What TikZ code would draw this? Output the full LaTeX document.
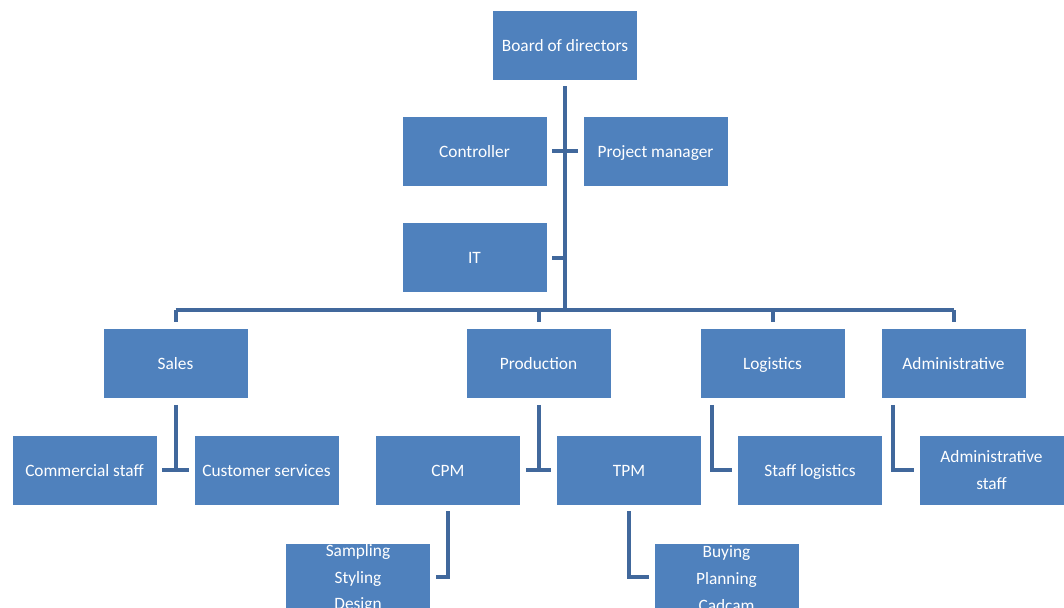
\documentclass[tikz,border=0pt]{standalone}
\usepackage{fontspec}
\setmainfont{Carlito}
\usetikzlibrary{calc}

\begin{document}
\begin{tikzpicture}[x=0.75pt, y=-0.75pt,
    box/.style={rectangle, draw=white, line width=0.4pt, fill={rgb,255:red,79;green,129;blue,189},
      text=white, minimum width=108.75pt, minimum height=52.5pt, inner sep=0pt,
      align=center, text height=10.5pt, text depth=1.5pt, font=\fontsize{13}{20}\selectfont},
    multi/.style={text height=, text depth=},
    conn/.style={draw={rgb,255:red,65;green,104;blue,156}, line width=3pt}]
  \clip (0,0) rectangle (1064,607);

  \node[box] (board) at (565, 45) {Board of directors};
  \node[box] (ctrl) at (474.5, 151) {Controller};
  \node[box] (pm) at (655.5, 151) {Project manager};
  \node[box] (it) at (474.5, 257.5) {IT};

  \node[box] (sales) at (175.5, 363.5) {Sales};
  \node[box] (prod) at (538.5, 363.5) {Production};
  \node[box] (logi) at (772.5, 363.5) {Logistics};
  \node[box] (admin) at (953.5, 363.5) {Administrative};

  \node[box] (comm) at (84.5, 470) {Commercial staff};
  \node[box] (cust) at (266.5, 470) {Customer services};
  \node[box] (cpm) at (448, 470) {CPM};
  \node[box] (tpm) at (629, 470) {TPM};
  \node[box] (stafflog) at (810, 470) {Staff logistics};
  \node[box, multi] (adminstaff) at (991.5, 470) {Administrative\\staff};

  \node[box, multi] (cpmsub) at (358, 578.5) {Sampling\\Styling\\Design};
  \node[box, multi] (tpmsub) at (726.5, 578.5) {Buying\\Planning\\Cadcam};

  \coordinate (bar) at (565, 310);

  \draw[conn] ($(board.south)+(0,6)$) -- (bar);
  \draw[conn] ($(ctrl.east)+(5,0)$) -- ($(pm.west)+(-5,0)$);
  \draw[conn] ($(it.east)+(5,0)$) -- (bar |- it.east);
  \draw[conn] (sales.north |- bar) -- (admin.north |- bar);
  \foreach \n in {sales, prod, logi, admin}
    \draw[conn] (\n.north |- bar) -- ($(\n.north)+(0,-6)$);

  \draw[conn] ($(sales.south)+(0,6)$) -- (sales.south |- comm.east);
  \draw[conn] ($(comm.east)+(5,0)$) -- ($(cust.west)+(-5,0)$);
  \draw[conn] ($(prod.south)+(0,6)$) -- (prod.south |- cpm.east);
  \draw[conn] ($(cpm.east)+(5,0)$) -- ($(tpm.west)+(-5,0)$);
  \draw[conn] ($(logi.south west)+(12,6)$) |- ($(stafflog.west)+(-5,0)$);
  \draw[conn] ($(admin.south west)+(12,6)$) |- ($(adminstaff.west)+(-5,0)$);

  \draw[conn] ($(cpm.south)+(0,6)$) |- ($(cpmsub.east)+(5,-1.5)$);
  \draw[conn] ($(tpm.south)+(0,6)$) |- ($(tpmsub.west)+(-5,-1.5)$);
\end{tikzpicture}
\end{document}
